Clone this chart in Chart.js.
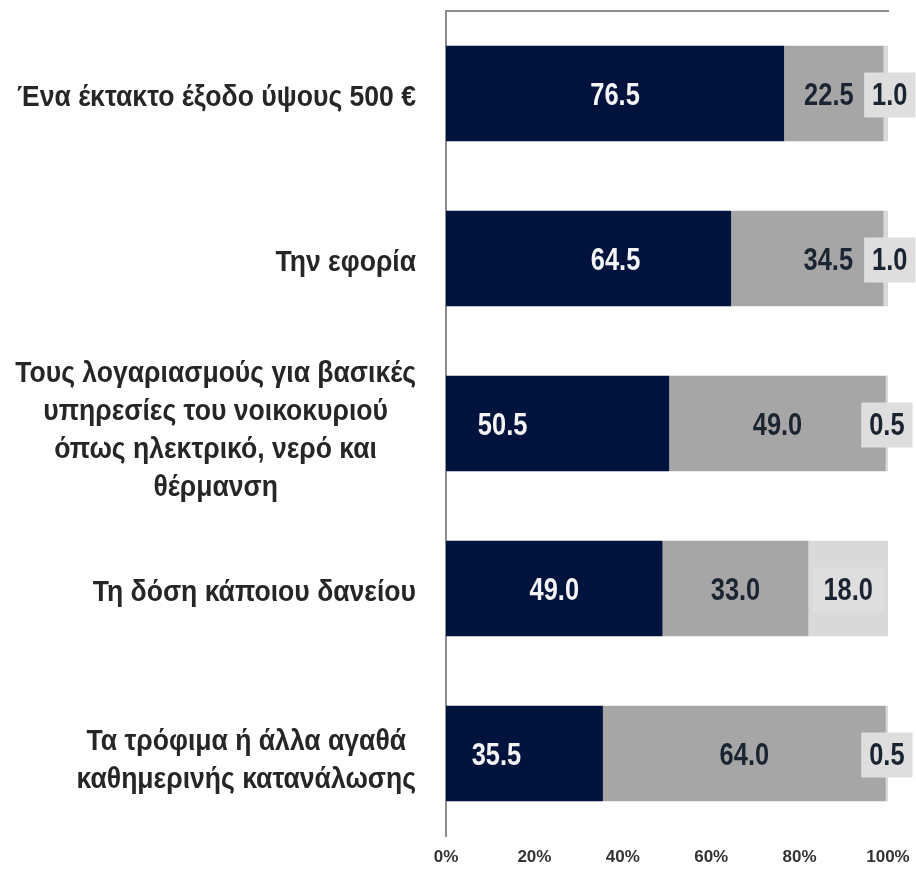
<!DOCTYPE html>
<html>
<head>
<meta charset="utf-8">
<script src="https://cdn.jsdelivr.net/npm/chart.js@4/dist/chart.umd.min.js"></script>
<style>
html,body{margin:0;padding:0;background:#fff;}
#wrap{width:916px;height:871px;}
</style>
</head>
<body>
<div id="wrap"><canvas id="c" width="916" height="871"></canvas></div>
<script>
const categories = [
  ["Ένα έκτακτο έξοδο ύψους 500 €"],
  ["Την εφορία"],
  ["Τους λογαριασμούς για βασικές", "υπηρεσίες του νοικοκυριού", "όπως ηλεκτρικό, νερό και", "θέρμανση"],
  ["Τη δόση κάποιου δανείου"],
  ["Τα τρόφιμα ή άλλα αγαθά", "καθημερινής κατανάλωσης"]
];
const seriesA = [76.5, 64.5, 50.5, 49.0, 35.5];
const seriesB = [22.5, 34.5, 49.0, 33.0, 64.0];
const seriesC = [1.0, 1.0, 0.5, 18.0, 0.5];
const xTicks = [0, 20, 40, 60, 80, 100];

// style only: horizontal nudges (px) of the value labels, per series
const labelNudge = [
  [0, 27, -55, 0, -28],
  [-5, 21, 0, 0, 0],
  [4, 4, 0, 0, 0]
];

const FONT = "'Liberation Sans', Arial, sans-serif";
const SX_BAR = 0.82;
const SX_CAT = 0.885;

function narrowText(ctx, txt, x, y, sx) {
  ctx.save();
  ctx.translate(x, y);
  ctx.scale(sx, 1);
  ctx.fillText(txt, 0, 0);
  ctx.restore();
}

const labelPlugin = {
  id: 'barLabels',
  afterDatasetsDraw(chart) {
    const ctx = chart.ctx;
    ctx.save();
    ctx.font = "bold 31px " + FONT;
    ctx.textAlign = 'center';
    ctx.textBaseline = 'alphabetic';
    chart.data.datasets.forEach((ds, di) => {
      const meta = chart.getDatasetMeta(di);
      meta.data.forEach((el, i) => {
        const v = ds.data[i];
        const p = el.getCenterPoint();
        const x = p.x + labelNudge[di][i];
        const txt = v.toFixed(1);
        if (di === 2) {
          const w = ctx.measureText(txt).width * SX_BAR;
          const pad = v >= 10 ? 11 : 8;
          ctx.fillStyle = '#dedede';
          ctx.fillRect(x - w / 2 - pad, p.y - 21, w + 2 * pad, 45);
        }
        ctx.fillStyle = di === 0 ? '#f4f4f4' : '#1b2431';
        narrowText(ctx, txt, x, p.y + 11, SX_BAR);
      });
    });
    ctx.restore();
  }
};

const catLabelPlugin = {
  id: 'catLabels',
  afterDraw(chart) {
    const ctx = chart.ctx;
    const ys = chart.scales.y;
    ctx.save();
    ctx.font = "bold 30px " + FONT;
    ctx.fillStyle = '#262626';
    ctx.textAlign = 'center';
    ctx.textBaseline = 'alphabetic';
    const lh = 38;
    const right = ys.right - 30;
    categories.forEach((lines, i) => {
      const cy = ys.getPixelForTick(i);
      let maxW = 0;
      lines.forEach(l => { maxW = Math.max(maxW, ctx.measureText(l).width * SX_CAT); });
      const cx = right - maxW / 2;
      const y0 = cy + 12 + (lines.length > 1 ? 3 : 0) - (lines.length - 1) * lh / 2;
      lines.forEach((l, k) => narrowText(ctx, l, cx, y0 + k * lh, SX_CAT));
    });
    ctx.restore();
  }
};

new Chart(document.getElementById('c'), {
  type: 'bar',
  data: {
    labels: categories,
    datasets: [
      { data: seriesA, backgroundColor: '#00133d' },
      { data: seriesB, backgroundColor: '#a6a6a6' },
      { data: seriesC, backgroundColor: '#d9d9d9' }
    ]
  },
  options: {
    indexAxis: 'y',
    responsive: false,
    animation: false,
    events: [],
    layout: { padding: { top: 11, right: 28, bottom: 0, left: 0 } },
    datasets: { bar: { barPercentage: 0.58, categoryPercentage: 1.0 } },
    plugins: { legend: { display: false }, tooltip: { enabled: false } },
    scales: {
      x: {
        stacked: true, min: 0, max: 100,
        afterBuildTicks: (s) => { s.ticks = xTicks.map(v => ({ value: v })); },
        grid: { display: false, drawTicks: false },
        border: { display: false },
        ticks: {
          padding: 11,
          color: '#333333',
          font: { family: FONT, size: 17, weight: 'bold' },
          maxRotation: 0,
          callback: (v) => v + '%'
        },
        afterFit: (s) => { s.height = 35; s.paddingLeft = 0; s.paddingRight = 0; }
      },
      x2: {
        position: 'top', min: 0, max: 100,
        grid: { display: false, drawTicks: false },
        border: { display: true, color: '#8c8c8c', width: 2 },
        ticks: { display: false },
        afterFit: (s) => { s.height = 0; s.paddingLeft = 0; s.paddingRight = 0; }
      },
      y: {
        stacked: true,
        grid: { display: false, drawTicks: false },
        border: { display: true, color: '#8c8c8c', width: 2 },
        ticks: { display: false },
        afterFit: (s) => { s.width = 446; }
      }
    }
  },
  plugins: [labelPlugin, catLabelPlugin]
});
</script>
</body>
</html>
